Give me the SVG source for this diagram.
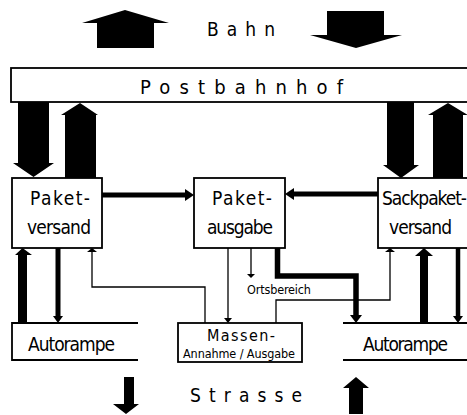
<svg xmlns="http://www.w3.org/2000/svg" width="467" height="415" viewBox="0 0 467 415">
<style>
.box{fill:#fff;stroke:#000;stroke-width:1.8}
.ln{fill:none;stroke:#000}
.t{font-family:"DejaVu Sans Condensed","Liberation Sans Narrow","Liberation Sans",sans-serif;font-stretch:condensed;fill:#000}
.big{font-size:19px}
.sm{font-size:12.5px}
</style>
<rect width="467" height="415" fill="#fff"/>
<g id="bahn">
<polygon points="97,48 97,23 82,23 125,10 169,23 154,23 154,48" fill="#000"/>
<polygon points="327,11 384,11 384,35 402,35 356,48 310,35 327,35" fill="#000"/>
<text class="t big" x="207" y="36" textLength="68">Bahn</text>
</g>
<g id="postbahnhof">
<rect class="box" x="11" y="68" width="470" height="34"/>
<text class="t" font-size="20" x="140" y="94" textLength="203">Postbahnhof</text>
</g>
<g id="paketversand">
<rect class="box" x="12" y="178" width="90" height="70"/>
<text class="t big" x="30" y="205" textLength="60">Paket-</text>
<text class="t big" x="27" y="234" textLength="64">versand</text>
</g>
<g id="paketausgabe">
<rect class="box" x="194" y="178" width="91" height="70"/>
<text class="t big" x="212" y="205" textLength="60">Paket-</text>
<text class="t big" x="207" y="234" textLength="66">ausgabe</text>
</g>
<g id="sackpaketversand">
<rect class="box" x="378" y="178" width="100" height="70"/>
<text class="t big" x="382" y="205" textLength="85">Sackpaket-</text>
<text class="t big" x="389" y="234" textLength="63">versand</text>
</g>
<g id="autorampe-links">
<path class="ln" stroke-width="1.8" d="M138,323 H12 V360 H138"/>
<text class="t big" x="28" y="351" textLength="87">Autorampe</text>
</g>
<g id="massen">
<rect class="box" x="178" y="323" width="124" height="39"/>
<text class="t" font-size="16" x="207" y="341" textLength="68">Massen-</text>
<text class="t sm" x="183" y="358" textLength="112">Annahme / Ausgabe</text>
</g>
<g id="autorampe-rechts">
<path class="ln" stroke-width="1.8" d="M343,323 H470 M343,360 H470"/>
<text class="t big" x="363" y="351" textLength="85">Autorampe</text>
</g>
<g id="ortsbereich">
<text class="t sm" x="247" y="294" textLength="64">Ortsbereich</text>
</g>
<g id="strasse">
<text class="t big" x="190" y="402" textLength="112">Strasse</text>
<polygon points="124,377 134,377 134,404 139,404 126,414 113,404 124,404" fill="#000"/>
<polygon points="349,414 363,414 363,388 369,388 356,377 343,388 349,388" fill="#000"/>
</g>
<g id="connectors">
<polygon points="18,102 49,102 49,163 54,163 33.5,177 13,163 18,163" fill="#000"/>
<polygon points="65,178 96,178 96,115 98,115 80,103 61,115 65,115" fill="#000"/>
<polygon points="387,102 414,102 414,165 419,165 401,178 383,165 387,165" fill="#000"/>
<polygon points="433,178 463,178 463,115 468,115 448,103 428,115 433,115" fill="#000"/>
<line class="ln" stroke-width="5" x1="102" y1="195" x2="187" y2="195"/>
<polygon points="185,189 194,195 185,201" fill="#000"/>
<line class="ln" stroke-width="5" x1="378" y1="194" x2="292" y2="194"/>
<polygon points="294,188 285,194 294,200" fill="#000"/>
<polygon points="18,323 27,323 27,255 32,255 22.5,248 15,255 18,255" fill="#000"/>
<line class="ln" stroke-width="5" x1="58" y1="248" x2="58" y2="317"/>
<polygon points="53,316 63,316 58,323" fill="#000"/>
<polyline class="ln" stroke-width="1.3" points="205,323 205,287 92,287 92,251"/>
<polygon points="87,252 97,252 92,248" fill="#000"/>
<line class="ln" stroke-width="1.3" x1="228" y1="248" x2="228" y2="319"/>
<polygon points="224,318 232,318 228,323" fill="#000"/>
<line class="ln" stroke-width="1.3" x1="251" y1="248" x2="251" y2="275"/>
<polygon points="247,274 255,274 251,278" fill="#000"/>
<polyline class="ln" stroke-width="5.5" points="277.5,248 277.5,276 356,276 356,316"/>
<polygon points="350,315 362,315 356,323" fill="#000"/>
<polyline class="ln" stroke-width="1.3" points="276,323 276,300 390,300 390,251"/>
<polygon points="385,252 395,252 390,248" fill="#000"/>
<polygon points="420,323 428,323 428,256 433,256 424,248 415,256 420,256" fill="#000"/>
<line class="ln" stroke-width="4.5" x1="458" y1="248" x2="458" y2="317"/>
<polygon points="453,316 463,316 458,323" fill="#000"/>
</g>
</svg>
